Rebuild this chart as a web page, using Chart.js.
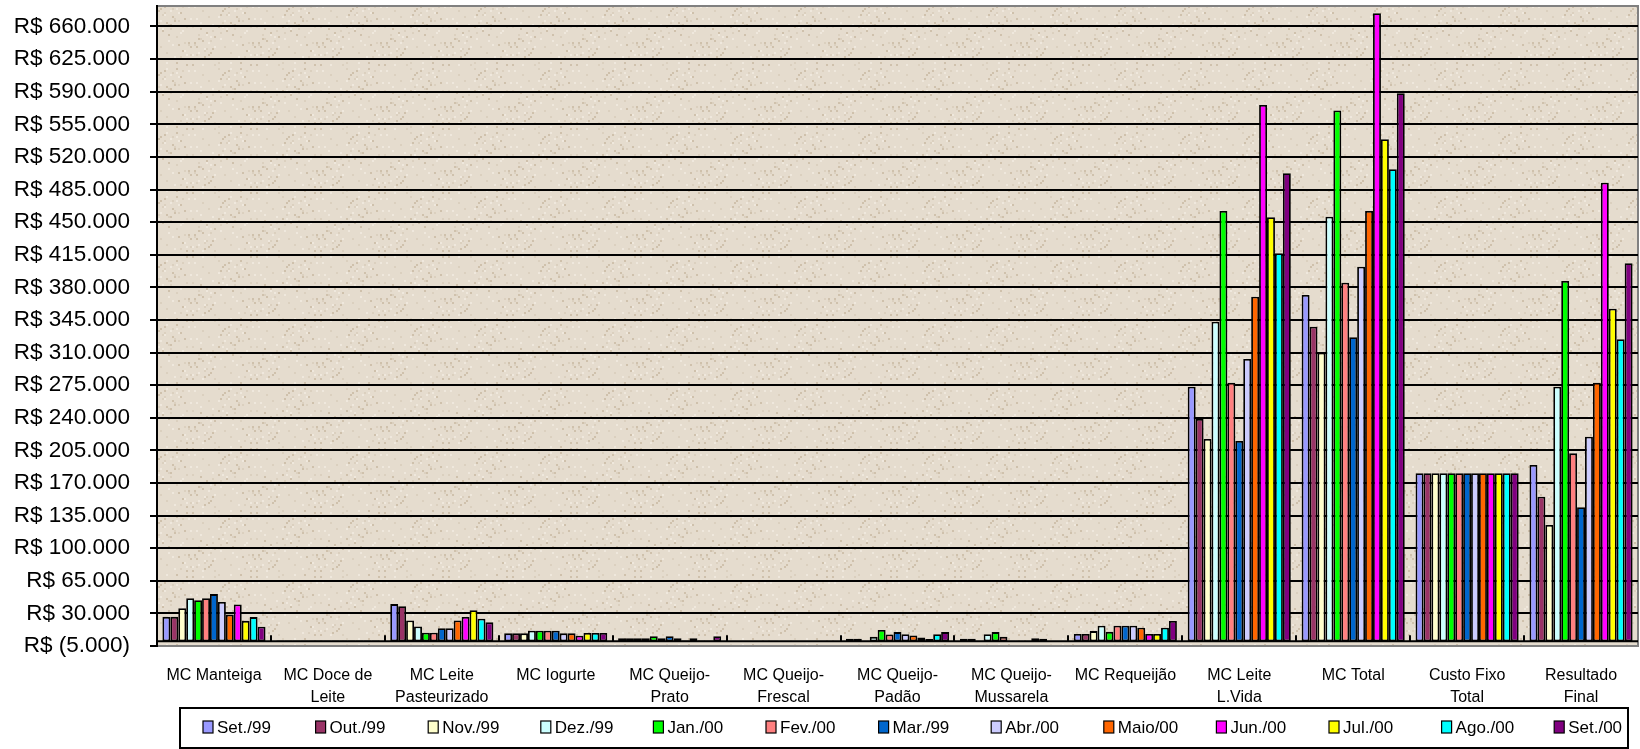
<!DOCTYPE html>
<html>
<head>
<meta charset="utf-8">
<script src="https://cdn.jsdelivr.net/npm/chart.js@4.4.0/dist/chart.umd.min.js"></script>
<style>
  html, body { margin: 0; padding: 0; background: #fff; }
  canvas { display: block; }
</style>
</head>
<body>
<canvas id="grafico" width="1640" height="749"></canvas>
<script>
// categorias do eixo X
const categorias = [
  'MC Manteiga', ['MC Doce de', 'Leite'], ['MC Leite', 'Pasteurizado'], 'MC Iogurte',
  ['MC Queijo-', 'Prato'], ['MC Queijo-', 'Frescal'], ['MC Queijo-', 'Padão'],
  ['MC Queijo-', 'Mussarela'], 'MC Requeijão', ['MC Leite', 'L.Vida'], 'MC Total',
  ['Custo Fixo', 'Total'], ['Resultado', 'Final']
]

// valores por mês (um valor por categoria)
const set99 = [26300, 1000, 40000, 8600, 3300, 500, 2900, 2900, 8000, 273300, 371800, 180400, 189300]
const out99 = [26300, 1000, 37600, 8600, 3300, 500, 2900, 2900, 8000, 238700, 337800, 180400, 155200]
const nov99 = [35500, 1000, 22500, 8600, 3300, 500, 700, 700, 11000, 217200, 309800, 180400, 124900]
const dez99 = [46300, 1000, 15900, 11400, 3300, 500, 4800, 7700, 16800, 343100, 455900, 180400, 273300]
const jan00 = [44200, 1000, 9200, 11400, 5500, 500, 12100, 9900, 10200, 462000, 569800, 180400, 386900]
const fev00 = [46300, 1000, 9200, 11400, 3300, 500, 7400, 4800, 16800, 277600, 385000, 180400, 201800]
const mar99 = [50700, 1000, 14000, 11400, 5500, 500, 9900, 600, 16800, 215000, 326400, 180400, 143900]
const abr00 = [42200, 1000, 14000, 8600, 3300, 500, 7700, 600, 16800, 303100, 402200, 180400, 219700]
const mai00 = [28700, 1000, 22500, 8600, 1000, 500, 6300, 600, 14600, 370000, 462000, 180400, 277600]
const jun00 = [39600, 1000, 26200, 6000, 3300, 500, 4000, 3300, 8000, 575800, 674200, 180400, 492300]
const jul00 = [22000, 1000, 33400, 9000, 800, 500, 2600, 2900, 8000, 455200, 538900, 180400, 357100]
const ago00 = [26000, 1000, 24300, 9000, 800, 500, 7700, 500, 14600, 416600, 506700, 180400, 324200]
const set00 = [15700, 1000, 20400, 9000, 5500, 500, 9900, 500, 21900, 502400, 588300, 180400, 405800]

const meses = ['Set./99', 'Out./99', 'Nov./99', 'Dez./99', 'Jan./00', 'Fev./00', 'Mar./99',
  'Abr./00', 'Maio/00', 'Jun./00', 'Jul./00', 'Ago./00', 'Set./00']
const series = [set99, out99, nov99, dez99, jan00, fev00, mar99, abr00, mai00, jun00, jul00, ago00, set00]
const cores = ['#9999FF', '#993366', '#FFFFCC', '#CCFFFF', '#00FF00', '#FF8080', '#0066CC',
  '#CCCCFF', '#FF6600', '#FF00FF', '#FFFF00', '#00FFFF', '#800080']

// marcas do eixo Y
const yTicks = [-5000, 30000, 65000, 100000, 135000, 170000, 205000, 240000, 275000, 310000,
  345000, 380000, 415000, 450000, 485000, 520000, 555000, 590000, 625000, 660000]
const yMin = -5000, yMax = 682000

const FONTE = "'Liberation Sans', Arial, sans-serif"

function formataReal(v) {
  let s = Math.abs(v).toString().replace(/\B(?=(\d{3})+(?!\d))/g, '.')
  return v < 0 ? 'R$ (' + s + ')' : 'R$ ' + s
}

// textura de fundo (determinística)
function criaTextura(ctx) {
  let c = document.createElement('canvas')
  c.width = 64; c.height = 64
  let g = c.getContext('2d')
  g.fillStyle = '#E5DCCE'
  g.fillRect(0, 0, 64, 64)
  for (let y = 0; y < 64; y += 2) {
    for (let x = 0; x < 64; x += 2) {
      let h = (x * 73 + y * 151 + x * y * 7) % 29
      if (h === 0) { g.fillStyle = '#CFC1AC'; g.fillRect(x, y, 2, 2) }
      else if (h === 5) { g.fillStyle = '#EFE8DD'; g.fillRect(x, y, 2, 2) }
      else if (h === 11) { g.fillStyle = '#DBD0BF'; g.fillRect(x, y, 2, 2) }
    }
  }
  return ctx.createPattern(c, 'repeat')
}

const pluginFundo = {
  id: 'fundo',
  beforeDraw(chart) {
    let ctx = chart.ctx, a = chart.chartArea
    ctx.save()
    ctx.fillStyle = '#fff'
    ctx.fillRect(0, 0, chart.width, chart.height)
    ctx.fillStyle = criaTextura(ctx)
    ctx.fillRect(a.left, a.top, a.right - a.left, a.bottom - a.top)
    // borda cinza
    ctx.strokeStyle = '#808080'
    ctx.lineWidth = 2
    ctx.beginPath()
    ctx.moveTo(a.left, a.top); ctx.lineTo(a.right, a.top)
    ctx.lineTo(a.right, a.bottom); ctx.lineTo(a.left, a.bottom)
    ctx.stroke()
    ctx.restore()
  },
  afterDatasetsDraw(chart) {
    // linha do zero e marcas entre categorias
    let ctx = chart.ctx, a = chart.chartArea
    let y0 = chart.scales.y.getPixelForValue(0)
    let n = categorias.length
    let w = (a.right - a.left) / n
    ctx.save()
    ctx.strokeStyle = '#000'
    ctx.lineWidth = 2
    ctx.beginPath()
    ctx.moveTo(a.left, y0); ctx.lineTo(a.right, y0)
    for (let i = 1; i < n; i++) {
      let x = Math.round(a.left + i * w)
      ctx.moveTo(x, y0); ctx.lineTo(x, y0 - 6)
    }
    ctx.stroke()
    ctx.restore()
  },
  afterDraw(chart) {
    // legenda com caixa
    let ctx = chart.ctx
    let bx = 180, by = 708, bw = 1448, bh = 40
    ctx.save()
    ctx.strokeStyle = '#000'
    ctx.lineWidth = 2
    ctx.strokeRect(bx, by, bw, bh)
    ctx.font = '17px ' + FONTE
    ctx.textBaseline = 'middle'
    ctx.fillStyle = '#000'
    chart.data.datasets.forEach((ds, i) => {
      let x = bx + 23 + i * 112.6
      let yc = by + 19
      ctx.fillStyle = ds.backgroundColor
      ctx.fillRect(x, yc - 6, 10, 12)
      ctx.lineWidth = 1.2
      ctx.strokeRect(x, yc - 6, 10, 12)
      ctx.fillStyle = '#000'
      ctx.fillText(ds.label, x + 14, yc + 1)
    })
    ctx.restore()
  }
}

const datasets = series.map((valores, i) => ({
  label: meses[i],
  data: valores,
  backgroundColor: cores[i],
  borderColor: '#000',
  borderWidth: 1.8,
  borderSkipped: false,
  categoryPercentage: 0.905,
  barPercentage: 1.0
}))

new Chart(document.getElementById('grafico'), {
  type: 'bar',
  data: { labels: categorias, datasets: datasets },
  plugins: [pluginFundo],
  options: {
    responsive: false,
    devicePixelRatio: 1,
    animation: false,
    layout: { padding: { left: 0, right: 2, top: 6, bottom: 41 } },
    plugins: {
      legend: { display: false },
      tooltip: { enabled: false }
    },
    scales: {
      x: {
        grid: { display: false },
        border: { display: false },
        ticks: {
          color: '#000',
          font: { family: FONTE, size: 16, lineHeight: 1.375 },
          padding: 11,
          maxRotation: 0,
          autoSkip: false
        },
        afterFit(scale) { scale.height = 62 }
      },
      y: {
        min: yMin,
        max: yMax,
        afterBuildTicks(scale) { scale.ticks = yTicks.map(v => ({ value: v })) },
        grid: {
          color: ctx => (ctx.tick && ctx.tick.value === yMin) ? 'rgba(0,0,0,0)' : '#000',
          lineWidth: 2,
          drawTicks: true,
          tickLength: 7,
          tickColor: '#000'
        },
        border: { display: true, color: '#000', width: 2 },
        ticks: {
          color: '#000',
          font: { family: FONTE, size: 22.5 },
          padding: 20,
          callback: v => formataReal(v)
        },
        afterFit(scale) {
          scale.width = 157
          scale.paddingTop = 0
          scale.paddingBottom = 0
        }
      }
    }
  }
})
</script>
</body>
</html>
